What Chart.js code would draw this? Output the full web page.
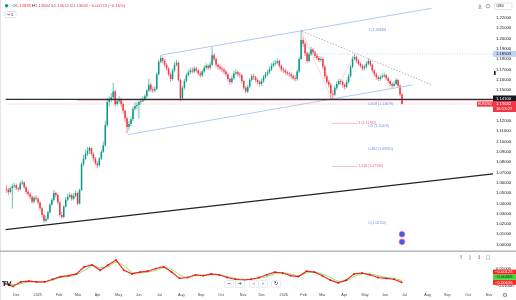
<!DOCTYPE html>
<html><head><meta charset="utf-8">
<script src="https://cdn.jsdelivr.net/npm/chart.js@4/dist/chart.umd.min.js"></script>
<style>
html,body{margin:0;padding:0;background:#fff;width:516px;height:300px;overflow:hidden}
#wrap{position:relative;width:516px;height:300px}
#c1{position:absolute;left:0;top:0}
#c2{position:absolute;left:0;top:252px}
</style></head><body>
<div id="wrap"><canvas id="c1" width="516" height="252"></canvas><canvas id="c2" width="516" height="48"></canvas></div>
<script>
// ---------- DATA (prices in units of 0.0001) ----------
const opens = [
10540,10529,10510,10547,10566,10575,10547,10538,10594,10603,
10557,10510,10492,10464,10417,10454,10445,10408,10352,10287,
10232,10250,10315,10389,10436,10501,10482,10408,10287,10269,
10371,10436,10464,10482,10445,10473,10501,10399,10529,10779,
10835,10882,10909,10937,10882,10835,10789,10770,10835,10900,
10965,11160,11383,11411,11429,11485,11364,11392,11411,11364,
11299,11225,11142,11169,11216,11318,11346,11355,11383,11392,
11411,11439,11494,11550,11504,11494,11513,11652,11773,11810,
11782,11745,11708,11652,11606,11689,11745,11764,11597,11420,
11522,11587,11643,11671,11689,11680,11708,11689,11661,11643,
11680,11717,11736,11717,11745,11838,11801,11745,11726,11708,
11699,11680,11652,11606,11578,11615,11661,11671,11652,11643,
11587,11522,11485,11531,11597,11634,11624,11597,11578,11559,
11587,11624,11652,11671,11699,11736,11754,11764,11782,11736,
11699,11689,11671,11661,11652,11634,11615,11606,11680,11801,
11986,11949,11856,11782,11847,11894,11866,11829,11810,11792,
11801,11726,11634,11578,11550,11467,11457,11522,11559,11587,
11578,11550,11531,11578,11634,11726,11801,11819,11782,11754,
11736,11708,11726,11754,11782,11745,11689,11652,11624,11606,
11624,11634,11643,11615,11587,11559,11541,11559,11597,11541,
11457];
const highs = [
10575,10552,10565,10590,10600,10590,10560,10612,10630,10615,
10570,10530,10505,10478,10470,10478,10460,10420,10365,10300,
10280,10330,10405,10455,10530,10515,10495,10420,10320,10385,
10460,10490,10505,10495,10500,10528,10515,10545,10800,10870,
10920,10947,10955,10945,10895,10850,10810,10850,10920,11000,
11200,11420,11440,11470,11570,11500,11420,11440,11425,11380,
11310,11240,11200,11240,11340,11380,11380,11400,11420,11440,
11460,11510,11610,11570,11530,11540,11670,11790,11838,11825,
11800,11760,11720,11670,11710,11770,11790,11780,11610,11540,
11610,11665,11700,11715,11720,11730,11725,11700,11680,11700,
11740,11760,11750,11775,11915,11860,11815,11760,11745,11730,
11715,11695,11665,11620,11640,11685,11700,11690,11675,11655,
11600,11540,11550,11615,11655,11660,11640,11615,11595,11610,
11645,11675,11695,11725,11760,11780,11790,11805,11795,11750,
11720,11705,11690,11680,11670,11650,11640,11700,11820,12083,
12010,11970,11870,11870,11920,11905,11880,11850,11830,11825,
11815,11740,11650,11600,11565,11500,11545,11585,11610,11605,
11595,11565,11600,11655,11745,11825,11850,11835,11800,11770,
11750,11745,11775,11805,11795,11760,11700,11670,11640,11645,
11660,11670,11655,11630,11600,11575,11585,11620,11610,11555,
11470];
const lows = [
10500,10480,10495,10350,10548,10530,10515,10525,10580,10540,
10490,10470,10440,10395,10405,10428,10390,10330,10265,10210,
10218,10240,10300,10375,10420,10460,10390,10270,10250,10255,
10360,10420,10450,10425,10430,10460,10380,10390,10520,10760,
10820,10860,10880,10860,10810,10770,10740,10755,10820,10890,
10950,11140,11340,11380,11410,11340,11350,11370,11330,11270,
11190,11080,11110,11150,11200,11300,11310,11220,11360,11380,
11395,11420,11480,11480,11470,11480,11500,11640,11760,11760,
11720,11690,11630,11580,11590,11670,11730,11580,11392,11405,
11505,11570,11630,11650,11660,11665,11670,11640,11620,11625,
11665,11700,11695,11700,11730,11780,11720,11700,11690,11675,
11655,11630,11585,11550,11560,11600,11645,11630,11620,11565,
11500,11470,11470,11515,11580,11600,11575,11555,11535,11540,
11570,11610,11635,11655,11685,11720,11735,11750,11715,11680,
11665,11650,11640,11630,11610,11595,11585,11590,11665,11790,
11920,11830,11760,11770,11830,11845,11810,11790,11770,11775,
11700,11610,11555,11525,11410,11425,11440,11505,11545,11550,
11525,11505,11515,11565,11620,11710,11790,11760,11735,11715,
11690,11690,11710,11740,11725,11670,11630,11600,11585,11590,
11610,11620,11595,11565,11540,11520,11530,11545,11520,11440,
11361];
const closes = [
10529,10510,10547,10566,10575,10547,10538,10594,10603,10557,
10510,10492,10464,10417,10454,10445,10408,10352,10287,10232,
10250,10315,10389,10436,10501,10482,10408,10287,10269,10371,
10436,10464,10482,10445,10473,10501,10399,10529,10779,10835,
10882,10909,10937,10882,10835,10789,10770,10835,10900,10965,
11160,11383,11411,11429,11485,11364,11392,11411,11364,11299,
11225,11142,11169,11216,11318,11346,11355,11383,11392,11411,
11439,11494,11550,11504,11494,11513,11652,11773,11810,11782,
11745,11708,11652,11606,11689,11745,11764,11597,11420,11522,
11587,11643,11671,11689,11680,11708,11689,11661,11643,11680,
11717,11736,11717,11745,11838,11801,11745,11726,11708,11699,
11680,11652,11606,11578,11615,11661,11671,11652,11643,11587,
11522,11485,11531,11597,11634,11624,11597,11578,11559,11587,
11624,11652,11671,11699,11736,11754,11764,11782,11736,11699,
11689,11671,11661,11652,11634,11615,11606,11680,11801,11986,
11949,11856,11782,11847,11894,11866,11829,11810,11792,11801,
11726,11634,11578,11550,11467,11457,11522,11559,11587,11578,
11550,11531,11578,11634,11726,11801,11819,11782,11754,11736,
11708,11726,11754,11782,11745,11689,11652,11624,11606,11624,
11634,11643,11615,11587,11559,11541,11559,11597,11541,11457,
11364];
// oscillator (units of 0.00001), one value every 4th bar
const oscRed = [-789,-1105,-579,-474,-579,-579,-263,53,158,368,
1210,1421,789,1421,2000,789,368,579,684,1000,
1210,579,-158,-53,263,158,368,263,-53,-263,
-368,-263,-53,263,579,474,158,53,684,579,
158,-368,-684,-368,368,474,263,-53,-158,-263,
-626];
const oscGreen = [-684,-895,-789,-579,-579,-579,-368,-53,53,263,
789,1316,1105,1210,1737,1316,579,474,579,789,
1105,895,263,-53,158,158,263,263,53,-158,
-263,-263,-158,53,368,474,368,158,474,579,
368,-53,-474,-474,53,368,368,158,-53,-158,
-405];
const oscStep = 4;
const oscLastLabels = ['−0.00125','−0.00405','−0.00626'];
const oscLastValues = [-0.00125,-0.00405,-0.00626];
// time axis (bar slots)
const monthLabels = ['Dec','2025','Feb','Mar','Apr','May','Jun','Jul','Aug','Sep','Oct','Nov','Dec','2026','Feb','Mar','Apr','May','Jun','Jul','Aug','Sep','Oct','Nov'];
const monthPos = [6.25,17,27.85,37.35,47.25,57.85,67.9,78.35,89.35,99.35,109.5,120.5,130,141,151,160.5,171.5,182,192,202,213.5,223.5,234,244.5];
const priceTicks = [1.00,1.01,1.02,1.03,1.04,1.05,1.06,1.07,1.08,1.09,1.10,1.11,1.12,1.15,1.16,1.17,1.18,1.19,1.20,1.21,1.22];
const oscTicks = [0.01,-0.01];
// drawings (bar slot, price)
const channelUpper = [[78.5,1.18379],[215.5,1.22929]];
const channelLower = [[62,1.10672],[206,1.15500]];
const dottedDown = [[150,1.2070],[215.5,1.1550]];
const trendBlack = [[0,1.01452],[246.5,1.06866]];
const fibPath = [[149.5,1.2083],[165,1.1410],[176.5,1.18503]];
const levelBlack = 1.14100, levelPink = 1.1398, levelDotted = 1.18503, lastPrice = 1.13642;
const fibExtLevels = [1.11762,1.07590];
const fibExtLabels = ['1 (1.11762)','1.618 (1.07590)'];
const fibBlueLevels = [1.2083,1.13679,1.1147,1.09261,1.0211];
const fibBlueLabels = ['1 (1.20830)','0.618 (1.13679)','0.5 (1.11470)','0.382 (1.09261)','0 (1.02110)'];
const anchorPts = [[200.5,1.0101],[200.5,1.0027]];
const legendParts = [['O','#131722'],['1.13838','#f23645'],[' H','#131722'],['1.13844','#f23645'],[' L','#131722'],['1.13612','#f23645'],[' C','#131722'],['1.13642','#f23645'],[' −0.00174 (−0.15%)','#f23645']];

// ---------- SETUP ----------
const P = v => v / 10000;
const FAM = '"Liberation Sans", Arial, sans-serif';
const fnt = (s, w) => (w ? w + ' ' : '') + s + 'px ' + FAM;
const UP = '#089981', DN = '#f23645';
const isUp = i => closes[i] >= opens[i];
const XMIN = 0, XMAX = 246.5;

const wickData = closes.map((c, i) => ({x: i + 0.5, y: [P(lows[i]), P(highs[i])]}));
const bodyData = closes.map((c, i) => ({x: i + 0.5, y: [P(opens[i]), P(closes[i])]}));

function rrect(ctx, x, y, w, h, r) {
  ctx.beginPath(); ctx.moveTo(x + r, y); ctx.lineTo(x + w - r, y); ctx.quadraticCurveTo(x + w, y, x + w, y + r);
  ctx.lineTo(x + w, y + h - r); ctx.quadraticCurveTo(x + w, y + h, x + w - r, y + h);
  ctx.lineTo(x + r, y + h); ctx.quadraticCurveTo(x, y + h, x, y + h - r);
  ctx.lineTo(x, y + r); ctx.quadraticCurveTo(x, y, x + r, y); ctx.closePath();
}
function axisBox(ctx, yc, h, bg, lines, fg) {
  ctx.fillStyle = bg; ctx.fillRect(493, yc - 3, 23, h);
  ctx.fillStyle = fg; ctx.font = fnt(4.2); ctx.textBaseline = 'middle'; ctx.textAlign = 'left';
  lines.forEach((t, k) => ctx.fillText(t, 496, yc + k * 5));
}

const drawPlugin = {
  id: 'drawings',
  afterDatasetsDraw(chart) {
    const {ctx, chartArea: a, scales: {x, y}} = chart;
    const X = v => x.getPixelForValue(v), Y = v => y.getPixelForValue(v);
    ctx.save();
    ctx.beginPath(); ctx.rect(a.left, a.top, a.right - a.left, a.bottom - a.top); ctx.clip();
    const line = (pts, color, w, dash) => {
      ctx.beginPath(); ctx.strokeStyle = color; ctx.lineWidth = w; ctx.setLineDash(dash || []);
      pts.forEach((p, i) => { const px = X(p[0]), py = Y(p[1]); i ? ctx.lineTo(px, py) : ctx.moveTo(px, py); });
      ctx.stroke();
    };
    line(channelUpper, '#b3c8f4', 1);
    line(channelLower, '#b3c8f4', 1);
    line(dottedDown, '#b2b5be', 1, [1.5, 1.5]);
    line([[155, levelDotted], [XMAX, levelDotted]], '#b3c8f4', 0.8, [1, 1.5]);
    line(fibPath, 'rgba(242,54,69,0.25)', 0.8);
    line(trendBlack, '#1e222d', 1.3);
    line([[36, levelPink], [XMAX, levelPink]], 'rgba(242,54,69,0.3)', 1);
    line([[XMIN, levelBlack], [XMAX, levelBlack]], '#2a2e39', 1.3);
    line([[XMIN, lastPrice], [XMAX, lastPrice]], 'rgba(242,54,69,0.45)', 0.8, [1, 1.5]);
    fibExtLevels.forEach(v => line([[165, v], [178, v]], 'rgba(242,54,69,0.4)', 0.8));
    ctx.setLineDash([]);
    ctx.textBaseline = 'middle'; ctx.textAlign = 'left';
    ctx.font = fnt(3.5);
    ctx.fillStyle = '#6b8fe6';
    fibBlueLevels.forEach((v, k) => ctx.fillText(fibBlueLabels[k], X(183.5), Y(v)));
    ctx.fillStyle = '#ef5f78';
    fibExtLevels.forEach((v, k) => ctx.fillText(fibExtLabels[k], X(178.5), Y(v)));
    ctx.restore();
  },
  afterDraw(chart) {
    const {ctx, scales: {y}} = chart;
    const Y = v => y.getPixelForValue(v);
    ctx.save();
    ctx.fillStyle = '#e0e3eb'; ctx.fillRect(0, 0, 1, 252);
    ctx.fillStyle = '#b2b5be'; ctx.fillRect(0, 250.5, 516, 1.5);
    ctx.fillStyle = UP; ctx.beginPath(); ctx.arc(6.5, 5.8, 1.7, 0, Math.PI * 2); ctx.fill();
    ctx.font = fnt(4.2); ctx.textBaseline = 'middle'; ctx.textAlign = 'left';
    let lx = 12.5;
    legendParts.forEach(([t, c]) => { ctx.fillStyle = c; ctx.fillText(t, lx, 5.8); lx += ctx.measureText(t).width; });
    ctx.strokeStyle = '#d1d4dc'; ctx.lineWidth = 0.7; rrect(ctx, 5, 11.5, 11, 6, 1.2); ctx.stroke();
    ctx.strokeStyle = '#131722'; ctx.lineWidth = 0.6; ctx.beginPath(); ctx.moveTo(7.2, 13.7); ctx.lineTo(8.5, 15.2); ctx.lineTo(9.8, 13.7); ctx.stroke();
    ctx.fillStyle = '#131722'; ctx.font = fnt(3.8); ctx.fillText('5', 11.3, 14.6);
    ctx.strokeStyle = '#d1d4dc'; ctx.lineWidth = 0.7; rrect(ctx, 494.5, 3, 17.5, 6.5, 1.2); ctx.stroke();
    ctx.fillStyle = '#131722'; ctx.font = fnt(3.6); ctx.fillText('USD', 496.5, 6.3);
    ctx.strokeStyle = '#6a6d78'; ctx.lineWidth = 0.6;
    ctx.beginPath(); ctx.moveTo(480, 4); ctx.lineTo(480, 7.2); ctx.moveTo(478.8, 6); ctx.lineTo(480, 7.2); ctx.lineTo(481.2, 6); ctx.moveTo(478.3, 8.2); ctx.lineTo(481.7, 8.2); ctx.stroke();
    ctx.beginPath(); ctx.arc(488, 6.2, 1.8, 0, Math.PI * 2); ctx.stroke();
    axisBox(ctx, Y(levelDotted), 6, '#c3d4f6', ['1.18503'], '#131722');
    axisBox(ctx, Y(levelBlack) - 0.8, 6, '#131722', ['1.14100'], '#ffffff');
    axisBox(ctx, Y(lastPrice), 11, '#f23645', ['1.13642', '16:13:27'], '#ffffff');
    ctx.fillStyle = '#f23645'; ctx.fillRect(477, Y(lastPrice) - 2.6, 16, 5.2);
    ctx.fillStyle = '#fff'; ctx.font = fnt(3.3); ctx.fillText('EURUSD', 478, Y(lastPrice));
    ctx.fillStyle = '#131722'; ctx.fillRect(494, 71, 1.6, 4);
    ctx.restore();
  }
};

new Chart(document.getElementById('c1'), {
  type: 'bar',
  data: {
    datasets: [
      {type: 'scatter', data: anchorPts.map(p => ({x: p[0], y: p[1]})), pointRadius: 2.6, pointBackgroundColor: '#2962ff', pointBorderColor: 'rgba(242,54,69,0.45)', pointBorderWidth: 1.4, showLine: false},
      {data: bodyData, stack: 'c', barThickness: 1.5, minBarLength: 0.7, inflateAmount: 0, borderWidth: 0,
       backgroundColor: c => isUp(c.dataIndex) ? UP : DN},
      {data: wickData, stack: 'c', barThickness: 1, inflateAmount: 0, borderWidth: 0,
       backgroundColor: c => isUp(c.dataIndex) ? 'rgba(8,153,129,0.6)' : 'rgba(242,54,69,0.6)'}
    ]
  },
  options: {
    responsive: false, animation: false, devicePixelRatio: 1, events: [],
    layout: {padding: 0},
    plugins: {legend: {display: false}, tooltip: {enabled: false}},
    scales: {
      x: {type: 'linear', display: false, min: XMIN, max: XMAX, offset: false},
      y: {position: 'right', min: 0.99809, max: 1.23207, stacked: false,
          grid: {display: false, drawTicks: false}, border: {display: false},
          afterBuildTicks: s => { s.ticks = priceTicks.map(v => ({value: v})); },
          afterFit: s => { s.width = 23; s.paddingTop = 0; s.paddingBottom = 0; },
          ticks: {padding: 3, color: '#131722', font: {size: 4.2, family: FAM}, callback: v => Number(v).toFixed(5)}}
    }
  },
  plugins: [drawPlugin]
});

const botPlugin = {
  id: 'bot',
  afterDraw(chart) {
    const {ctx, scales: {y}} = chart;
    ctx.save();
    ctx.fillStyle = '#e0e3eb'; ctx.fillRect(0, 0, 1, 48);
    const cols = [['#ff2626', '#fff'], ['#33e533', '#131722'], ['#ff2626', '#fff']];
    let prev = Infinity; const ys = [];
    for (let k = oscLastValues.length - 1; k >= 0; k--) { const py = Math.min(y.getPixelForValue(oscLastValues[k]), prev - 5.1); ys[k] = py; prev = py; }
    ctx.font = fnt(4.2); ctx.textBaseline = 'middle'; ctx.textAlign = 'left';
    oscLastLabels.forEach((t, k) => { ctx.fillStyle = cols[k][0]; ctx.fillRect(493, ys[k] - 2.5, 23, 5); ctx.fillStyle = cols[k][1]; ctx.fillText(t, 495, ys[k]); });
    ctx.fillStyle = '#6a6d78'; ctx.font = '5px "DejaVu Sans"'; ctx.textAlign = 'center';
    ['↑', '▯', '↕', '□'].forEach((g, k) => ctx.fillText(g, 461 + k * 9, 5.5));
    const bx = [229, 240, 254, 263, 276], bg = ['−', '+', '‹', '›', '↻'];
    bx.forEach((cx, k) => {
      ctx.fillStyle = '#fff'; ctx.strokeStyle = '#e0e3eb'; ctx.lineWidth = 0.7;
      rrect(ctx, cx - 4.5, 28.5, 9, 7, 1.5); ctx.fill(); ctx.stroke();
      ctx.fillStyle = '#131722'; ctx.font = '5px "DejaVu Sans"'; ctx.fillText(bg[k], cx, 32.2);
    });
    ctx.fillStyle = '#131722'; ctx.font = 'bold 6.5px "DejaVu Sans"'; ctx.textAlign = 'left'; ctx.textBaseline = 'alphabetic';
    ctx.fillText('TV', 2, 34);
    ctx.fillStyle = '#6a6d78'; ctx.font = '6px "DejaVu Sans"'; ctx.textAlign = 'center'; ctx.textBaseline = 'middle';
    ctx.fillText('⚙', 505, 43);
    ctx.restore();
  }
};

new Chart(document.getElementById('c2'), {
  type: 'line',
  data: {
    datasets: [
      {data: oscRed.map((v, k) => ({x: k * oscStep + 0.5, y: v / 100000})), borderColor: '#ff1f1f', borderWidth: 1.2,
       pointRadius: 0.9, pointBackgroundColor: '#e01010', pointBorderWidth: 0, tension: 0},
      {data: oscGreen.map((v, k) => ({x: k * oscStep + 0.5, y: v / 100000})), borderColor: '#7de86b', borderWidth: 1,
       pointRadius: 0, tension: 0.3}
    ]
  },
  options: {
    responsive: false, animation: false, devicePixelRatio: 1, events: [],
    layout: {padding: 0},
    plugins: {legend: {display: false}, tooltip: {enabled: false}},
    scales: {
      x: {type: 'linear', min: XMIN, max: XMAX, offset: false,
          grid: {display: false, drawTicks: false}, border: {display: false},
          afterBuildTicks: s => { s.ticks = monthPos.map(v => ({value: v})); },
          afterFit: s => { s.height = 10; s.paddingLeft = 0; s.paddingRight = 0; },
          ticks: {autoSkip: false, maxRotation: 0, minRotation: 0, padding: 3, color: '#434651',
                  font: {size: 3.7, family: FAM}, callback: (v, i) => monthLabels[i]}},
      y: {position: 'right', min: -0.01526, max: 0.02474,
          grid: {display: false, drawTicks: false}, border: {display: false},
          afterBuildTicks: s => { s.ticks = oscTicks.map(v => ({value: v})); },
          afterFit: s => { s.width = 23; s.paddingTop = 0; s.paddingBottom = 0; },
          ticks: {padding: 3, color: '#131722', font: {size: 4.2, family: FAM},
                  callback: v => (v < 0 ? '−' : '') + Math.abs(v).toFixed(5)}}
    }
  },
  plugins: [botPlugin]
});
</script>
</body></html>
